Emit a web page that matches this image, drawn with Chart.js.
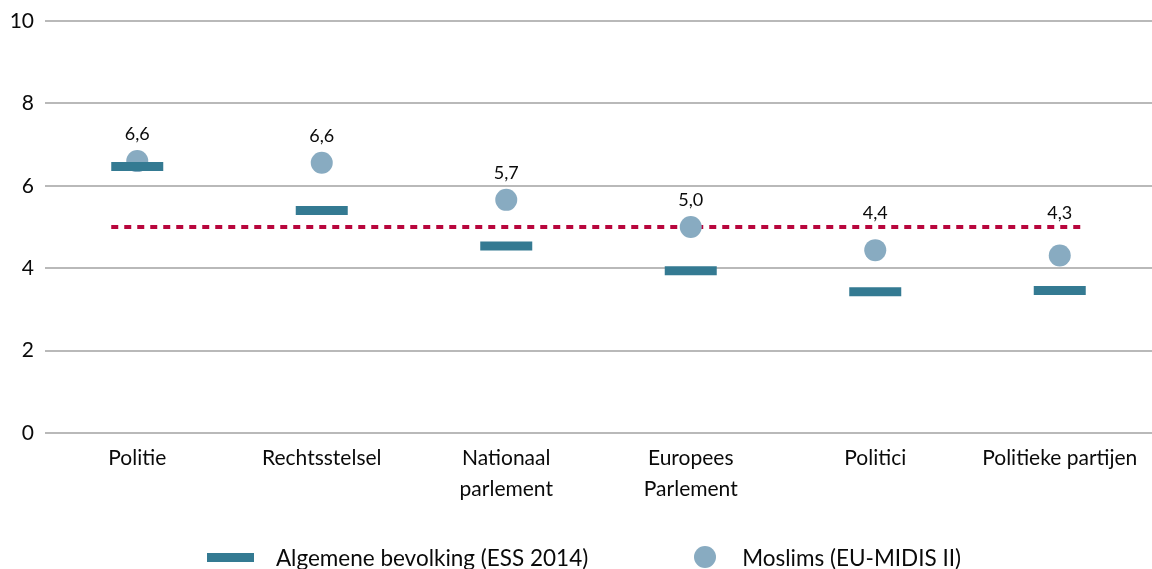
<!DOCTYPE html>
<html>
<head>
<meta charset="utf-8">
<script src="https://cdn.jsdelivr.net/npm/chart.js@4/dist/chart.umd.min.js"></script>
<style>
  html, body { margin: 0; padding: 0; background: #fff; }
  #wrap { position: relative; width: 1152px; height: 569px; }
  #legend {
    position: absolute; left: 0; top: 544px; width: 1152px; height: 26px;
    display: flex; justify-content: center; align-items: center;
    padding-left: 16px; box-sizing: border-box;
    font-family: Lato, sans-serif; font-size: 22.5px; color: #0a0a0a;
  }
  .dash { display: inline-block; width: 47px; height: 9px; background: #347a92; margin-right: 22px; }
  .dot { display: inline-block; width: 22px; height: 22px; border-radius: 50%; background: #88abc1; margin-left: 106px; margin-right: 26px; }
</style>
</head>
<body>
<div id="wrap">
  <canvas id="chart" width="1152" height="569"></canvas>
  <div id="legend"></div>
</div>
<script>
const categories = [
    ['Politie'],
    ['Rechtsstelsel'],
    ['Nationaal', 'parlement'],
    ['Europees', 'Parlement'],
    ['Politici'],
    ['Politieke partijen'],
];
const algemeneBevolking = [6.47, 5.40, 4.54, 3.94, 3.43, 3.46];
const moslims = [6.6, 6.56, 5.66, 5.0, 4.44, 4.31];
const seriesNames = ['Algemene bevolking (ESS 2014)', 'Moslims (EU-MIDIS II)'];
const yTicks = [0, 2, 4, 6, 8, 10];
const referenceValue = 5.0;

const teal = '#347a92';
const lightBlue = '#88abc1';
const red = '#b8063d';
const textColor = '#0a0a0a';
const fontFamily = 'Lato, sans-serif';

// dashed reference line, drawn under the markers
const referenceLine = {
    id: 'referenceLine',
    beforeDatasetsDraw(chart) {
        const {ctx, scales: {x, y}} = chart;
        const py = y.getPixelForValue(referenceValue);
        const x0 = x.getPixelForValue(0) - 26;
        const x1 = x.getPixelForValue(categories.length - 1) + 26;
        ctx.save();
        ctx.strokeStyle = red;
        ctx.lineWidth = 4;
        ctx.setLineDash([7, 6]);
        ctx.beginPath();
        ctx.moveTo(x0, py);
        ctx.lineTo(x1, py);
        ctx.stroke();
        ctx.restore();
    }
};

// value labels above the circles
const valueLabels = {
    id: 'valueLabels',
    afterDatasetsDraw(chart) {
        const {ctx, scales: {y}} = chart;
        const meta = chart.getDatasetMeta(1);
        const lineY = y.getPixelForValue(referenceValue);
        ctx.save();
        ctx.font = '18px ' + fontFamily;
        ctx.fillStyle = textColor;
        ctx.textAlign = 'center';
        ctx.textBaseline = 'middle';
        meta.data.forEach((pt, i) => {
            const ly = Math.min(pt.y - 27, lineY - 14);
            ctx.fillText(moslims[i].toFixed(1).replace('.', ','), pt.x, ly);
        });
        ctx.restore();
    }
};

const data = {
    labels: categories,
    datasets: [{
        label: seriesNames[0],
        data: algemeneBevolking,
        showLine: false,
        pointStyle: 'line',
        pointRadius: 26,
        pointHoverRadius: 26,
        borderWidth: 9,
        pointBorderWidth: 9,
        borderColor: teal,
        pointBorderColor: teal,
        clip: false,
    }, {
        label: seriesNames[1],
        data: moslims,
        showLine: false,
        pointStyle: 'circle',
        pointRadius: 11,
        pointHoverRadius: 11,
        pointBorderWidth: 0,
        backgroundColor: lightBlue,
        pointBackgroundColor: lightBlue,
        clip: false,
    }]
};

const config = {
    type: 'line',
    data,
    options: {
        responsive: false,
        animation: false,
        layout: { autoPadding: false, padding: { left: 0, top: 21, right: 0, bottom: 55 } },
        plugins: { legend: { display: false }, tooltip: { enabled: false } },
        scales: {
            x: {
                offset: true,
                grid: { display: false, drawTicks: false },
                border: { display: false },
                ticks: { color: textColor, font: { family: fontFamily, size: 21, lineHeight: 1.45 }, padding: 10, maxRotation: 0, autoSkip: false },
                afterFit: s => { s.paddingLeft = 0; s.paddingRight = 0; }
            },
            y: {
                min: 0, max: 10,
                afterBuildTicks: axis => { axis.ticks = yTicks.map(v => ({ value: v })); },
                grid: { color: '#b9b9b9', lineWidth: 2, drawTicks: false },
                border: { display: false },
                ticks: { color: textColor, font: { family: fontFamily, size: 21 }, padding: 11 },
                afterFit: s => { s.paddingTop = 0; s.paddingBottom = 0; s.width = 45; }
            }
        }
    },
    plugins: [referenceLine, valueLabels]
};

const chart = new Chart(document.getElementById('chart'), config);

// legend
const legend = document.getElementById('legend');
legend.innerHTML =
    '<span class="dash"></span><span>' + seriesNames[0] + '</span>' +
    '<span class="dot"></span><span>' + seriesNames[1] + '</span>';
</script>
</body>
</html>
